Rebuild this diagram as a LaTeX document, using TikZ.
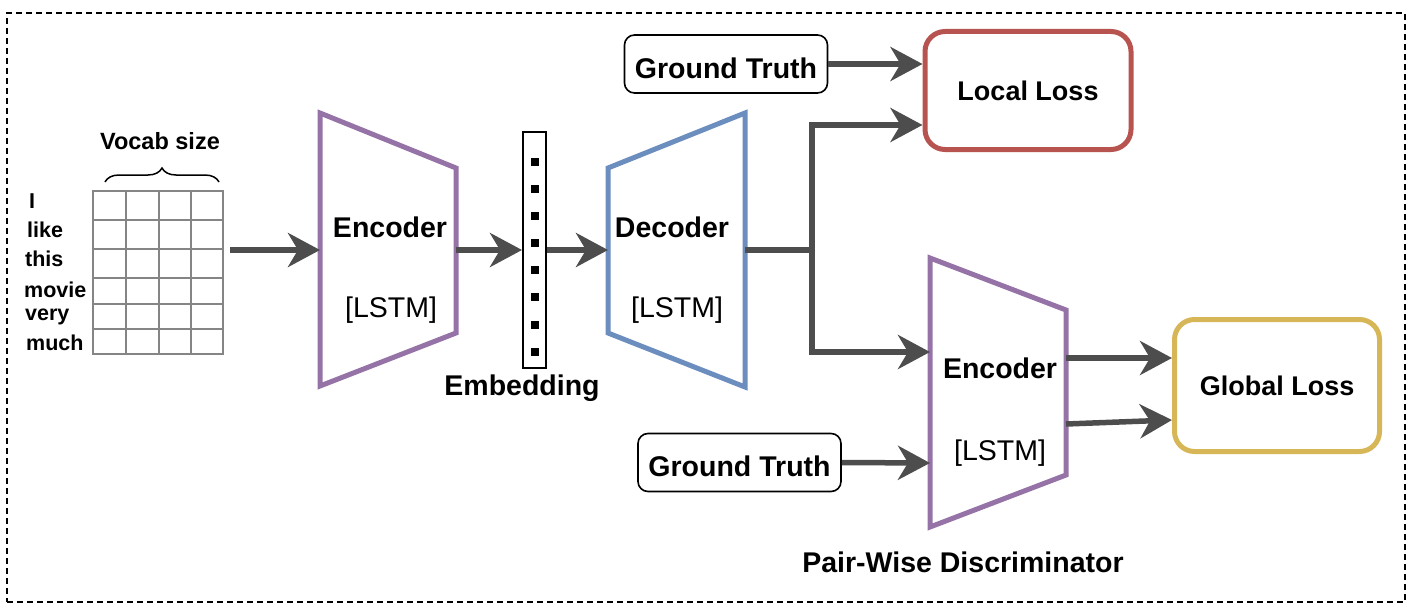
\documentclass[tikz,border=0pt]{standalone}
\usepackage{fontspec}
\setmainfont{Liberation Sans}
\usetikzlibrary{arrows.meta,decorations.pathreplacing}
\definecolor{purp}{HTML}{9673A6}
\definecolor{blu}{HTML}{6C8EBF}
\definecolor{redc}{HTML}{B85450}
\definecolor{yel}{HTML}{D6B656}
\definecolor{arr}{HTML}{4D4D4D}
\definecolor{gridc}{HTML}{858585}
\begin{document}
\begin{tikzpicture}[x=1pt,y=-1pt,
  lbl/.style={font=\fontsize{28.5}{33}\selectfont\bfseries, inner sep=0pt},
  reg/.style={font=\fontsize{28.5}{33}\selectfont, inner sep=0pt},
  word/.style={font=\fontsize{21.5}{25}\selectfont\bfseries, inner sep=0pt, anchor=west},
  trap/.style={line width=5pt, line join=miter},
  shaft/.style={draw=arr, line width=5.5pt},
  conn/.style={draw=arr, line width=5.5pt, -{Stealth[length=32pt,width=34pt,inset=10pt]}},
  gtbox/.style={draw=black, line width=1.6pt, rounded corners=10pt, minimum width=203pt, minimum height=58pt, lbl, text height=28.5pt, text depth=0pt},
  lossbox/.style={line width=5pt, rounded corners=20pt, lbl, font=\fontsize{27}{32}\selectfont\bfseries}]
\useasboundingbox (0,0) rectangle (1415,615);

% outer dashed frame
\node[draw=black, line width=1.8pt, dash pattern=on 6pt off 4pt, minimum width=1398pt, minimum height=589pt, inner sep=0pt] (frame) at (706,307.5) {};

% vocab grid
\draw[gridc, line width=1.8pt] (93,191) rectangle (223,354);
\foreach \xx in {126,159,191} \draw[gridc, line width=1.8pt] (\xx,191) -- (\xx,354);
\foreach \yy in {220,249,278,304,329} \draw[gridc, line width=1.8pt] (93,\yy) -- (223,\yy);
\coordinate (gridR) at (230,250);
\draw[line width=1.5pt, decorate, decoration={brace, amplitude=14pt}] (105,182) -- (219,182);
\node[lbl, font=\fontsize{23.5}{28}\selectfont\bfseries] (vocab) at (160,141) {Vocab size};

\node[word] (w1) at (29,201) {I};
\node[word] (w2) at (27,230) {like};
\node[word] (w3) at (25,259) {this};
\node[word] (w4) at (24,290) {movie};
\node[word] (w5) at (25,317) {very};
\node[word] (w6) at (26,343) {much};

% encoder
\draw[trap, draw=purp] (320,113) -- (456,168) -- (456,333) -- (320,386) -- cycle;
\coordinate (encL) at (320,250);
\coordinate (encR) at (456,250);
\node[lbl] (enct) at (390,227) {Encoder};
\node[reg] (encs) at (391,310) {[LSTM]};

% embedding
\node[draw=black, line width=2pt, minimum width=23pt, minimum height=236pt, inner sep=0pt] (emb) at (534.5,250) {};
\foreach \yy in {162,189,216,243,270,297,325,352} \fill (530.5,\yy-4) rectangle +(8,8);
\node[lbl] (embt) at (522,388) {Embedding};

% decoder
\draw[trap, draw=blu] (608,168) -- (745,113) -- (745,387) -- (608,333) -- cycle;
\coordinate (decL) at (608,250);
\coordinate (decR) at (745,250);
\node[lbl] (dect) at (672,227) {Decoder};
\node[reg] (decs) at (677,310) {[LSTM]};

% top ground truth and local loss
\node[gtbox] (gt1) at (726,64) {Ground Truth};
\node[lossbox, draw=redc, minimum width=206pt, minimum height=118pt] (ll) at (1028,90.5) {Local Loss};

% discriminator encoder
\draw[trap, draw=purp] (930,258) -- (1066,310) -- (1066,475) -- (930,527) -- cycle;
\coordinate (dsL1) at (930,352);
\coordinate (dsL2) at (930,463);
\coordinate (dsR1) at (1066,358);
\coordinate (dsR2) at (1066,424);
\node[lbl] (dst) at (1000,368) {Encoder};
\node[reg] (dss) at (1000,453) {[LSTM]};
\node[lbl] (pwd) at (963,562) {Pair-Wise Discriminator};

% bottom ground truth and global loss
\node[gtbox] (gt2) at (739.5,462.5) {Ground Truth};
\node[lossbox, draw=yel, minimum width=205pt, minimum height=132pt] (gl) at (1277,385.5) {Global Loss};

% connectors
\draw[conn] (gridR) -- (encL);
\draw[conn] (encR) -- (emb.west);
\draw[conn] (emb.east) -- (decL);
\coordinate (jn) at (812,250);
\draw[shaft] (decR) -- (jn);
\coordinate (llin) at (ll.west |- 0,125);
\coordinate (llgt) at (ll.west |- gt1.east);
\draw[conn, line join=miter] (jn) |- (llin);
\draw[conn, line join=miter] (jn) |- (dsL1);
\draw[conn] (gt1.east) -- (llgt);
\draw[conn] (gt2.east) -- (dsL2);
\coordinate (glin1) at (gl.west |- dsR1);
\coordinate (glin2) at (gl.west |- 0,420);
\draw[conn] (dsR1) -- (glin1);
\draw[conn] (dsR2) -- (glin2);
\end{tikzpicture}
\end{document}
